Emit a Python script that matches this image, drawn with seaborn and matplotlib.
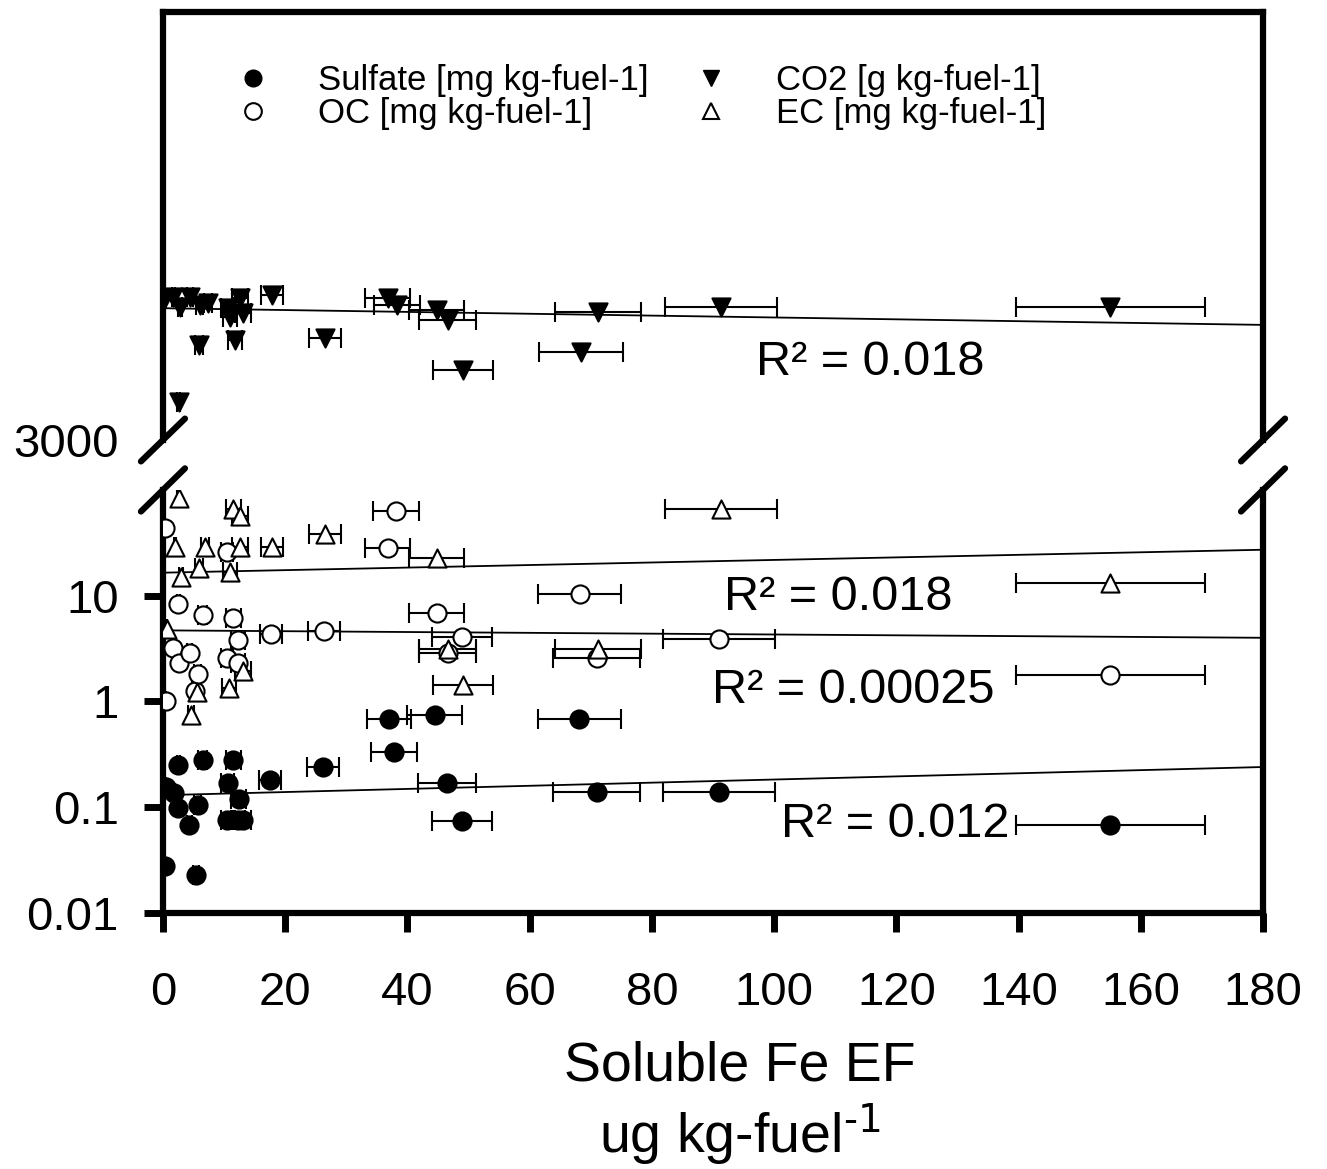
import numpy as np
import pandas as pd
import matplotlib
matplotlib.use('Agg')
import matplotlib.pyplot as plt
from matplotlib.lines import Line2D
from matplotlib.ticker import NullLocator
import seaborn as sns

# soluble Fe EF (x) with horizontal error, per species
sulfate_x = [0.3, 0.5, 1.8, 2.5, 2.5, 4.3, 5.4, 5.7, 6.5, 10.5, 10.6, 11.5, 12.3,
             12.4, 13.1, 17.5, 26.2, 37.0, 37.8, 44.5, 46.5, 49.0, 68.1, 71.0, 91.0, 155.0]
sulfate_xerr = [0.03, 0.05, 0.2, 0.25, 0.25, 0.4, 0.5, 0.6, 0.7, 1.0, 1.1, 1.2, 1.2,
                1.2, 1.3, 1.8, 2.6, 3.6, 3.8, 4.5, 4.7, 4.9, 6.8, 7.1, 9.1, 15.5]
sulfate_y = [0.028, 0.155, 0.135, 0.25, 0.098, 0.068, 0.023, 0.105, 0.28, 0.075, 0.17, 0.28, 0.075,
             0.12, 0.075, 0.18, 0.24, 0.69, 0.33, 0.74, 0.17, 0.074, 0.69, 0.14, 0.14, 0.068]

oc_x = [0.3, 0.5, 1.7, 2.5, 2.6, 4.4, 5.2, 5.7, 6.5, 10.5, 10.5, 11.5, 12.3,
        12.3, 17.7, 26.3, 36.8, 38.1, 44.8, 46.6, 49.0, 68.2, 71.0, 91.0, 155.0]
oc_xerr = [0.03, 0.05, 0.2, 0.25, 0.25, 0.4, 0.5, 0.6, 0.7, 1.0, 1.0, 1.2, 1.2,
           1.2, 1.8, 2.6, 3.7, 3.8, 4.5, 4.7, 4.9, 6.8, 7.1, 9.1, 15.5]
oc_y = [44, 1.0, 3.2, 8.4, 2.3, 2.9, 1.25, 1.8, 6.5, 26, 2.6, 6.2, 3.8,
        2.3, 4.3, 4.6, 28, 63, 6.9, 2.9, 4.1, 10.4, 2.55, 3.9, 1.76]

ec_x = [0.6, 2.0, 2.6, 2.9, 4.6, 5.5, 5.9, 6.9, 10.8, 11.0, 11.5, 12.6, 12.6,
        13.1, 17.8, 26.5, 44.8, 46.6, 49.1, 71.2, 91.3, 155.0]
ec_xerr = [0.06, 0.2, 0.25, 0.3, 0.45, 0.55, 0.6, 0.7, 1.1, 1.1, 1.2, 1.3, 1.3,
           1.3, 1.8, 2.6, 4.5, 4.7, 4.9, 7.1, 9.1, 15.5]
ec_y = [4.8, 28.8, 84, 15, 0.74, 1.22, 18.4, 28.8, 1.33, 16.8, 66, 28.8, 57,
        1.96, 28.8, 38.5, 22.8, 3.16, 1.42, 3.16, 66, 13.3]

co2_x = [0.0, 1.7, 2.6, 2.8, 4.4, 5.9, 6.0, 7.4, 10.6, 11.0, 11.8, 12.6, 13.1,
         17.8, 26.5, 36.8, 38.3, 44.8, 46.6, 49.1, 68.4, 71.2, 91.3, 155.0]
co2_xerr = [0.0, 0.2, 0.25, 0.3, 0.45, 0.6, 0.6, 0.7, 1.1, 1.1, 1.2, 1.3, 1.3,
            1.8, 2.6, 3.7, 3.8, 4.5, 4.7, 4.9, 6.8, 7.1, 9.1, 15.5]
co2_y = [3322, 3334, 3089, 3311, 3334, 3222, 3315, 3320, 3308, 3287, 3234, 3332, 3297,
         3339, 3238, 3332, 3315, 3304, 3280, 3164, 3206, 3299, 3311, 3311]

# linear trend lines (end values at x = 0 and 180)
trend_x = [0, 180]
sulfate_trend = [0.13, 0.24]
oc_trend = [4.7, 4.0]
ec_trend = [16.5, 27.2]
co2_trend = [3308, 3269]

r2_labels = ['R² = 0.018', 'R² = 0.018', 'R² = 0.00025', 'R² = 0.012']
r2_pos = [(115.7, 3182), (110.5, 9.6), (112.9, 1.27), (119.8, 0.068)]

x_ticks = [0, 20, 40, 60, 80, 100, 120, 140, 160, 180]
y_ticks = [0.01, 0.1, 1, 10]
y_ticklabels = ['0.01', '0.1', '1', '10']

sns.set_theme(style='white')
plt.rcParams['font.family'] = ['Liberation Sans', 'DejaVu Sans']
plt.rcParams['mathtext.default'] = 'regular'
for key in ['text.color', 'axes.labelcolor', 'xtick.color', 'ytick.color']:
    plt.rcParams[key] = 'black'

fig = plt.figure(figsize=(13.27, 11.69), dpi=100)
ax_top = fig.add_axes([0.1228, 0.6236, 0.829, 0.3661])
ax_bot = fig.add_axes([0.1228, 0.219, 0.829, 0.3619])

ax_bot.set_yscale('log')


def draw_series(ax, x, xerr, y, marker, face, size):
    ax.errorbar(x, y, xerr=xerr, fmt='none', ecolor='black', elinewidth=1.5,
                capsize=7, capthick=1.5, zorder=2)
    sns.scatterplot(x=x, y=y, ax=ax, marker=marker, s=size, color=face,
                    edgecolor='black', linewidth=1.5, zorder=3, legend=False)


draw_series(ax_bot, sulfate_x, sulfate_xerr, sulfate_y, 'o', 'black', 170)
draw_series(ax_bot, oc_x, oc_xerr, oc_y, 'o', 'white', 170)
draw_series(ax_bot, ec_x, ec_xerr, ec_y, '^', 'white', 170)
draw_series(ax_top, co2_x, co2_xerr, co2_y, 'v', 'black', 170)

for vals in [sulfate_trend, oc_trend, ec_trend]:
    sns.lineplot(x=trend_x, y=vals, ax=ax_bot, color='black', linewidth=1.3, zorder=1)
sns.lineplot(x=trend_x, y=co2_trend, ax=ax_top, color='black', linewidth=1.3, zorder=1)

ax_top.text(*r2_pos[0], r2_labels[0], fontsize=35, ha='center', va='center')
for lab, pos in zip(r2_labels[1:], r2_pos[1:]):
    ax_bot.text(*pos, lab, fontsize=35, ha='center', va='center')

# lower axes
ax_bot.set_xlim(0, 180)
ax_bot.set_ylim(0.01, 100)
ax_bot.set_xticks(x_ticks)
ax_bot.set_xticklabels([str(t) for t in x_ticks])
ax_bot.set_yticks(y_ticks)
ax_bot.set_yticklabels(y_ticklabels)
ax_bot.yaxis.set_minor_locator(NullLocator())
ax_bot.spines['top'].set_visible(False)
ax_bot.tick_params(axis='both', direction='out', length=14, width=5, labelsize=34,
                   left=True, bottom=True, color='black')
ax_bot.tick_params(axis='x', pad=28)
ax_bot.tick_params(axis='y', pad=18)
ax_bot.set_xlabel('Soluble Fe EF\nug kg-fuel$^{\\text{-1}}$', fontsize=40, labelpad=18,
                  linespacing=1.18)
ax_bot.xaxis.label.set_x(0.5245)
ax_bot.set_ylabel('')

# upper axes
ax_top.set_xlim(0, 180)
ax_top.set_ylim(3000, 4000)
ax_top.set_xticks([])
ax_top.set_yticks([3000])
ax_top.set_yticklabels(['3000'])
ax_top.spines['bottom'].set_visible(False)
ax_top.tick_params(axis='y', direction='out', length=14, width=0, labelsize=34,
                   left=True, pad=18)
ax_top.set_xlabel('')
ax_top.set_ylabel('')

for ax in [ax_top, ax_bot]:
    ax.set_facecolor('white')
    for sp in ax.spines.values():
        sp.set_linewidth(4.5)
        sp.set_color('black')
    ax.grid(False)

# axis break marks
dx = 0.02
for ax, yc, dy in [(ax_top, 0.0, 0.05), (ax_bot, 1.0, 0.051)]:
    for xc in [0.0, 1.0]:
        ax.plot([xc - dx, xc + dx], [yc - dy, yc + dy], transform=ax.transAxes,
                color='black', lw=4.5, clip_on=False, zorder=5)

handles = [
    Line2D([], [], marker='o', ls='none', color='black', markersize=12),
    Line2D([], [], marker='o', ls='none', markerfacecolor='white',
           markeredgecolor='black', markeredgewidth=1.5, markersize=12),
    Line2D([], [], marker='v', ls='none', color='black', markersize=12),
    Line2D([], [], marker='^', ls='none', markerfacecolor='white',
           markeredgecolor='black', markeredgewidth=1.5, markersize=12),
]
labels = ['Sulfate [mg kg-fuel-1]', 'OC [mg kg-fuel-1]',
          'CO2 [g kg-fuel-1]', 'EC [mg kg-fuel-1]']
fig.legend(handles, labels, loc='upper left', bbox_to_anchor=(222 / 1327, 1 - 64 / 1169),
           ncol=2, frameon=False, fontsize=25, handlelength=1.8, handletextpad=0.96,
           columnspacing=0.9, labelspacing=0.0, borderpad=0, borderaxespad=0)

fig.savefig('out.png', dpi=100)
